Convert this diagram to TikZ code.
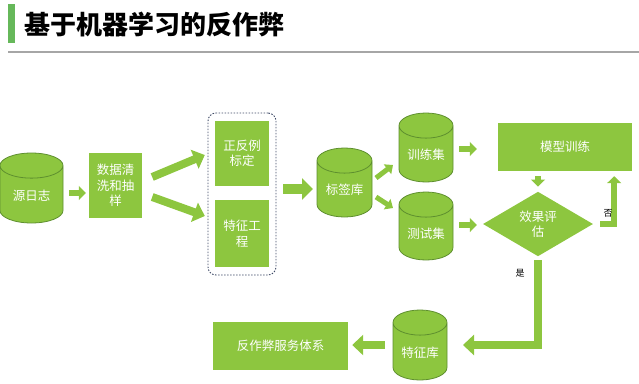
\documentclass[tikz,border=0pt]{standalone}
\usepackage{fontspec}
\setmainfont{Noto Sans CJK SC}
\usetikzlibrary{arrows.meta,shapes.geometric,positioning,calc}
\definecolor{cLeaf}{HTML}{8DC63F}
\definecolor{cRim}{HTML}{5E8F2F}
\definecolor{cBar}{HTML}{66B85A}
\definecolor{cRule}{HTML}{A6A6A6}
\definecolor{cGrp}{HTML}{3E4A66}
\tikzset{
  box/.style={rectangle,fill=cLeaf,text=white,align=center,inner sep=0pt,font=\fontsize{12.5}{15.5}\selectfont},
  cyl/.style={cylinder,shape border rotate=90,aspect=0.67,fill=cLeaf,draw=cRim,line width=.8pt,text=white,inner sep=0pt,minimum width=54pt,minimum height=69pt,anchor=shape center,text height=12pt,text depth=0pt,font=\fontsize{12.5}{15.5}\selectfont},
  dec/.style={diamond,fill=cLeaf,text=white,align=center,inner sep=0pt,minimum width=110pt,minimum height=48pt,font=\fontsize{12.5}{15.5}\selectfont},
  grp/.style={draw=cGrp,line width=.9pt,dash pattern=on 1.5pt off 1.5pt,rounded corners=8pt,inner sep=0pt},
  lbl/.style={font=\fontsize{9}{10}\selectfont},
  arrs/.style={cLeaf,line width=6pt,-{Triangle[length=7pt,width=14pt]}},
  arrm/.style={cLeaf,line width=8pt,-{Triangle[length=11pt,width=20pt]}},
  arrb/.style={cLeaf,line width=10pt,-{Triangle[length=11pt,width=21pt]}},
}
\begin{document}
\begin{tikzpicture}[x=1pt,y=-1pt]
  \useasboundingbox (0,0) rectangle (639,383);
  % title
  \fill[cBar] (8,4) rectangle (15,43);
  \node[anchor=west,inner sep=0pt,font=\fontsize{26}{30}\selectfont\bfseries] (title) at (24,25) {基于机器学习的反作弊};
  \draw[cRule,line width=2pt] (8,52) -- (639,52);
  % stores and steps
  \node[cyl,minimum width=63pt,minimum height=70pt] (src) at (31.5,188) {源日志};
  \node[box,minimum width=53pt,minimum height=65pt] (clean) at (115.5,185.5) {数据清\\洗和抽\\样};
  \node[grp,minimum width=68pt,minimum height=162pt] (group) at (242,194) {};
  \node[box,minimum width=54pt,minimum height=65pt] (pos) at (242,153.5) {正反例\\标定};
  \node[box,minimum width=54pt,minimum height=67pt] (feat) at (242,233.5) {特征工\\程};
  \node[cyl,minimum width=55pt] (tag) at (344.5,182.5) {标签库};
  \node[cyl] (train) at (426,147.5) {训练集};
  \node[cyl,minimum height=68pt] (test) at (426,226) {测试集};
  \node[box,minimum width=134pt,minimum height=48pt] (model) at (565,147) {模型训练};
  \node[dec] (eval) at (538,224) {效果评\\估};
  \node[cyl,minimum height=70pt] (fdb) at (420,345) {特征库};
  \node[box,minimum width=135pt,minimum height=48pt] (svc) at (280.5,346) {反作弊服务体系};
  % arrows
  \draw[arrs] ($(src.shape center)+(37.5,5)$) -- ([xshift=-3pt,yshift=-7.5pt]clean.west);
  \draw[arrm] ([xshift=10pt,yshift=8.5pt]clean.east) -- ([xshift=-10pt,yshift=-1.5pt]pos.west);
  \draw[arrm] ([xshift=10pt,yshift=-11.5pt]clean.east) -- ([xshift=-10pt,yshift=17.5pt]feat.west);
  \draw[arrb] ([xshift=7pt,yshift=5pt]group.east) -- ($(tag.shape center)+(-31.5,6.5)$);
  \draw[arrs,line width=5pt,-{Triangle[length=7pt,width=12pt]}] ($(tag.shape center)+(31.5,-4.5)$) -- ($(train.shape center)+(-33,17.5)$);
  \draw[arrs,line width=5pt,-{Triangle[length=7pt,width=12pt]}] ($(tag.shape center)+(31.5,14.5)$) -- ($(test.shape center)+(-33,-18)$);
  \draw[arrs] ($(train.shape center)+(33,1.5)$) -- ([xshift=-21pt,yshift=-2pt]model.west);
  \draw[arrs] ($(test.shape center)+(33,-1)$) -- ([xshift=-6pt,yshift=-1pt]eval.west);
  \draw[arrs,shorten <=5pt,shorten >=5pt] (model.south -| eval.north) -- (eval.north);
  \draw[arrs] ([xshift=7pt]eval.east) -| ([xshift=-18pt,yshift=-5pt]model.south east);
  \draw[arrm] ([yshift=-4pt]eval.south) |- ($(fdb.shape center)+(43,0)$);
  \draw[arrm] ($(fdb.shape center)+(-35,0)$) -- ([xshift=4pt,yshift=1pt]svc.east);
  % branch labels
  \node[lbl] (no) at (608,213) {否};
  \node[lbl] (yes) at (520,273) {是};
\end{tikzpicture}
\end{document}
